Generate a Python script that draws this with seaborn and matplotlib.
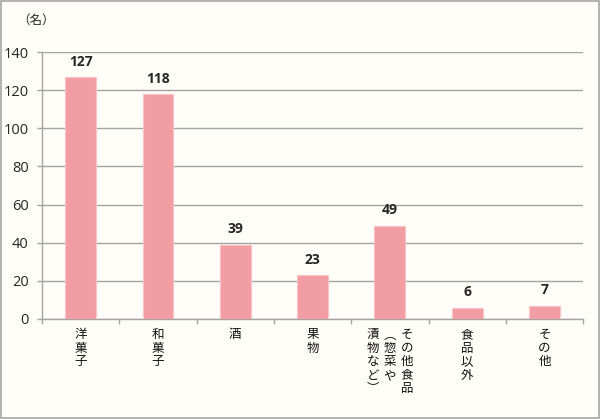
import matplotlib
matplotlib.use("Agg")
import matplotlib.pyplot as plt
import seaborn as sns
import pandas as pd
import numpy as np
from matplotlib.patches import Rectangle
from matplotlib.ticker import FixedLocator

categories = ["洋菓子", "和菓子", "酒", "果物", "その他食品（惣菜や漬物など）", "食品以外", "その他"]
values = [127, 118, 39, 23, 49, 6, 7]
# vertical label columns (right to left)
label_columns = [
    ["洋菓子"],
    ["和菓子"],
    ["酒"],
    ["果物"],
    ["その他食品", "︵惣菜や", "漬物など︶"],
    ["食品以外"],
    ["その他"],
]
yticks = [0, 20, 40, 60, 80, 100, 120, 140]

sns.set_theme(style="white")
plt.rcParams['font.family'] = ['Noto Sans CJK JP', 'DejaVu Sans']

bg = "#FFFDF7"
grid_c = "#A3A3A3"
fig = plt.figure(figsize=(6, 4.19), dpi=100, facecolor=bg)
ax = fig.add_axes([0.07, 0.2387, 0.902, 0.637])
ax.set_facecolor(bg)

df = pd.DataFrame({"cat": categories, "val": values})
sns.barplot(data=df, x="cat", y="val", color="#F29CA3", saturation=1, width=0.4, ax=ax,
            zorder=3, edgecolor="#F7C3C6", linewidth=0.8)

ax.set_ylim(0, 140)
ax.set_xlim(-0.5, len(categories) - 0.5)
ax.set_yticks(yticks)
ax.set_yticklabels([str(t) for t in yticks], fontsize=10.5, family=['Open Sans', 'DejaVu Sans'])
ax.grid(axis="y", color=grid_c, linewidth=1.0, zorder=0)
ax.set_xlabel("")
ax.set_ylabel("")

for s in ["top", "right"]:
    ax.spines[s].set_visible(False)
for s in ["left", "bottom"]:
    ax.spines[s].set_color(grid_c)
    ax.spines[s].set_linewidth(1.0)

ax.tick_params(axis="y", left=True, length=3.5, width=1.0, color=grid_c, pad=6)
ax.set_xticks([])
ax.xaxis.set_minor_locator(FixedLocator(np.arange(-0.5, len(categories), 1.0)))
ax.tick_params(axis="x", which="minor", bottom=True, length=3.5, width=1.0, color=grid_c, direction="out")

# value labels
for i, v in enumerate(values):
    ax.annotate(str(v), (i, v), xytext=(0, 6), textcoords="offset points",
                ha="center", va="bottom", fontsize=10, fontweight="bold",
                family=['Open Sans', 'DejaVu Sans'])

# vertical category labels
trans = ax.get_xaxis_transform()
col_offsets = {1: [0], 3: [0.22, 0, -0.22]}
for i, cols in enumerate(label_columns):
    offs = col_offsets[len(cols)]
    for off, col in zip(offs, cols):
        ax.text(i + off, -0.035, "\n".join(col), transform=trans, ha="center", va="top",
                fontsize=9, linespacing=1.05, color="#111111")

fig.text(0.028, 0.952, "（名）", fontsize=9, ha="left", va="center")

fig.patches.append(Rectangle((0.002, 0.002), 0.996, 0.995, transform=fig.transFigure,
                             fill=False, edgecolor="#A6A6A6", linewidth=1.2))

fig.savefig("out.png", dpi=100, facecolor=bg)
